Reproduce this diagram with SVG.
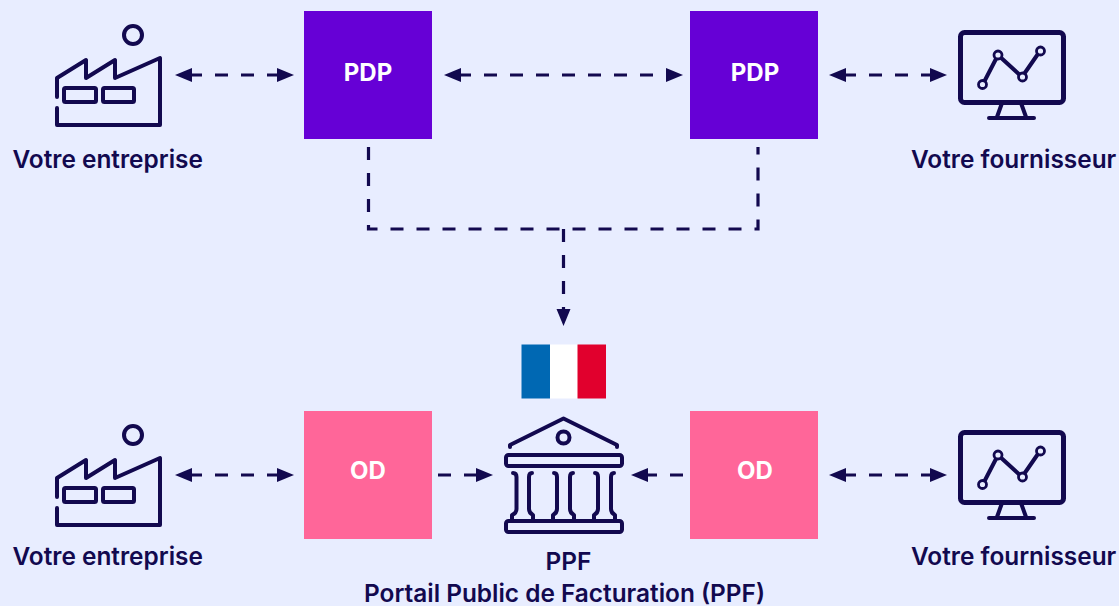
<svg xmlns="http://www.w3.org/2000/svg" width="1119" height="606" viewBox="0 0 1119 606">
<style>
.bg{fill:#e8edff}
.lbl{font-family:Inter,"Liberation Sans",sans-serif;font-weight:600;font-size:24.4px;fill:#12094f}
.box{font-family:Inter,"Liberation Sans",sans-serif;font-weight:700;font-size:24px;fill:#fff;text-anchor:middle}
.pdp{fill:#6600d6}.od{fill:#ff6699}
.ic{fill:none;stroke:#12094f;stroke-width:4;stroke-linejoin:round;stroke-linecap:round}
.cn{fill:none;stroke:#12094f;stroke-width:3.2;stroke-dasharray:13 13}
</style>
<defs>
<marker id="head" markerUnits="userSpaceOnUse" markerWidth="18" markerHeight="16" refX="0" refY="7" orient="auto-start-reverse" overflow="visible"><path d="M0 0L17 7L0 14Z" fill="#12094f"/></marker>
<g id="factory"><circle class="ic" cx="133" cy="35" r="9"/><path class="ic" d="M57 97V78L86 60V78L115 60V78L160 58V125H57V108"/><rect class="ic" x="64" y="88" width="32" height="14" rx="1.5"/><rect class="ic" x="103" y="88" width="31" height="14" rx="1.5"/></g>
<g id="monitor"><rect class="ic" x="960.500" y="32.500" width="103" height="70" rx="4" style="stroke-width:5"/><path class="ic" d="M1002 103L997 117M1021 103L1026 117M989 118H1034"/><path class="ic" d="M982.500 85L998 55L1022 77L1040 51"/><g fill="#e8edff" stroke="#12094f" stroke-width="2.800"><circle cx="982.500" cy="84.500" r="4"/><circle cx="998" cy="55" r="4"/><circle cx="1022.500" cy="77" r="4"/><circle cx="1040.500" cy="51" r="4"/></g></g>
</defs>
<rect class="bg" width="1119" height="606"/>
<g id="connectors">
<path class="cn" stroke-dashoffset="3" d="M192 75H277" marker-start="url(#head)" marker-end="url(#head)"/>
<path class="cn" stroke-dashoffset="3" d="M461 75H666" marker-start="url(#head)" marker-end="url(#head)"/>
<path class="cn" stroke-dashoffset="3" d="M846 75H930" marker-start="url(#head)" marker-end="url(#head)"/>
<path class="cn" d="M368.500 147V229H758V147"/>
<path class="cn" d="M563.500 229V309" marker-end="url(#head)"/>
<path class="cn" stroke-dashoffset="3" d="M192 475H277" marker-start="url(#head)" marker-end="url(#head)"/>
<path class="cn" d="M438 475H476" marker-end="url(#head)"/>
<path class="cn" d="M683 475H648" marker-end="url(#head)"/>
<path class="cn" stroke-dashoffset="3" d="M846 475H930" marker-start="url(#head)" marker-end="url(#head)"/>
</g>
<g id="company-top"><use href="#factory"/><text class="lbl" x="12.500" y="168">Votre entreprise</text></g>
<g id="pdp-left"><rect class="pdp" x="304" y="11" width="128" height="128"/><text class="box" x="368" y="81">PDP</text></g>
<g id="pdp-right"><rect class="pdp" x="690" y="11" width="128" height="128"/><text class="box" x="755" y="81">PDP</text></g>
<g id="supplier-top"><use href="#monitor"/><text class="lbl" x="911" y="168">Votre fournisseur</text></g>
<g id="flag"><rect x="521.500" y="344.500" width="28.500" height="54" fill="#0068b3"/><rect x="550" y="344.500" width="28" height="54" fill="#fff"/><rect x="577.500" y="344.500" width="28.500" height="54" fill="#e1002d"/></g>
<g id="company-bottom"><use href="#factory" y="400"/><text class="lbl" x="12.500" y="565">Votre entreprise</text></g>
<g id="od-left"><rect class="od" x="304" y="411" width="128" height="128"/><text class="box" x="368" y="479">OD</text></g>
<g id="ppf"><path class="ic" d="M510 447V445L563.500 418.500L617 445V447"/><circle class="ic" cx="563.500" cy="437.500" r="6"/><rect class="ic" x="506" y="455" width="116" height="11" rx="2.500"/><rect class="ic" x="506" y="521" width="116" height="11" rx="2.500"/><path class="ic" d="M513 473Q516.500 473 516.500 477V509Q516.500 513 512 515V520M532 473Q529 473 529 477V509Q529 513 533 515V520M554 473Q557 473 557 477V509Q557 513 553 515V520M573 473Q570 473 570 477V509Q570 513 574 515V520M595 473Q598 473 598 477V509Q598 513 594 515V520M614 473Q611 473 611 477V509Q611 513 615 515V520"/><text class="lbl" x="568.500" y="570" text-anchor="middle">PPF</text><text class="lbl" x="564.500" y="602" text-anchor="middle">Portail Public de Facturation (PPF)</text></g>
<g id="od-right"><rect class="od" x="690" y="411" width="128" height="128"/><text class="box" x="755" y="479">OD</text></g>
<g id="supplier-bottom"><use href="#monitor" y="400"/><text class="lbl" x="911" y="565">Votre fournisseur</text></g>
</svg>
